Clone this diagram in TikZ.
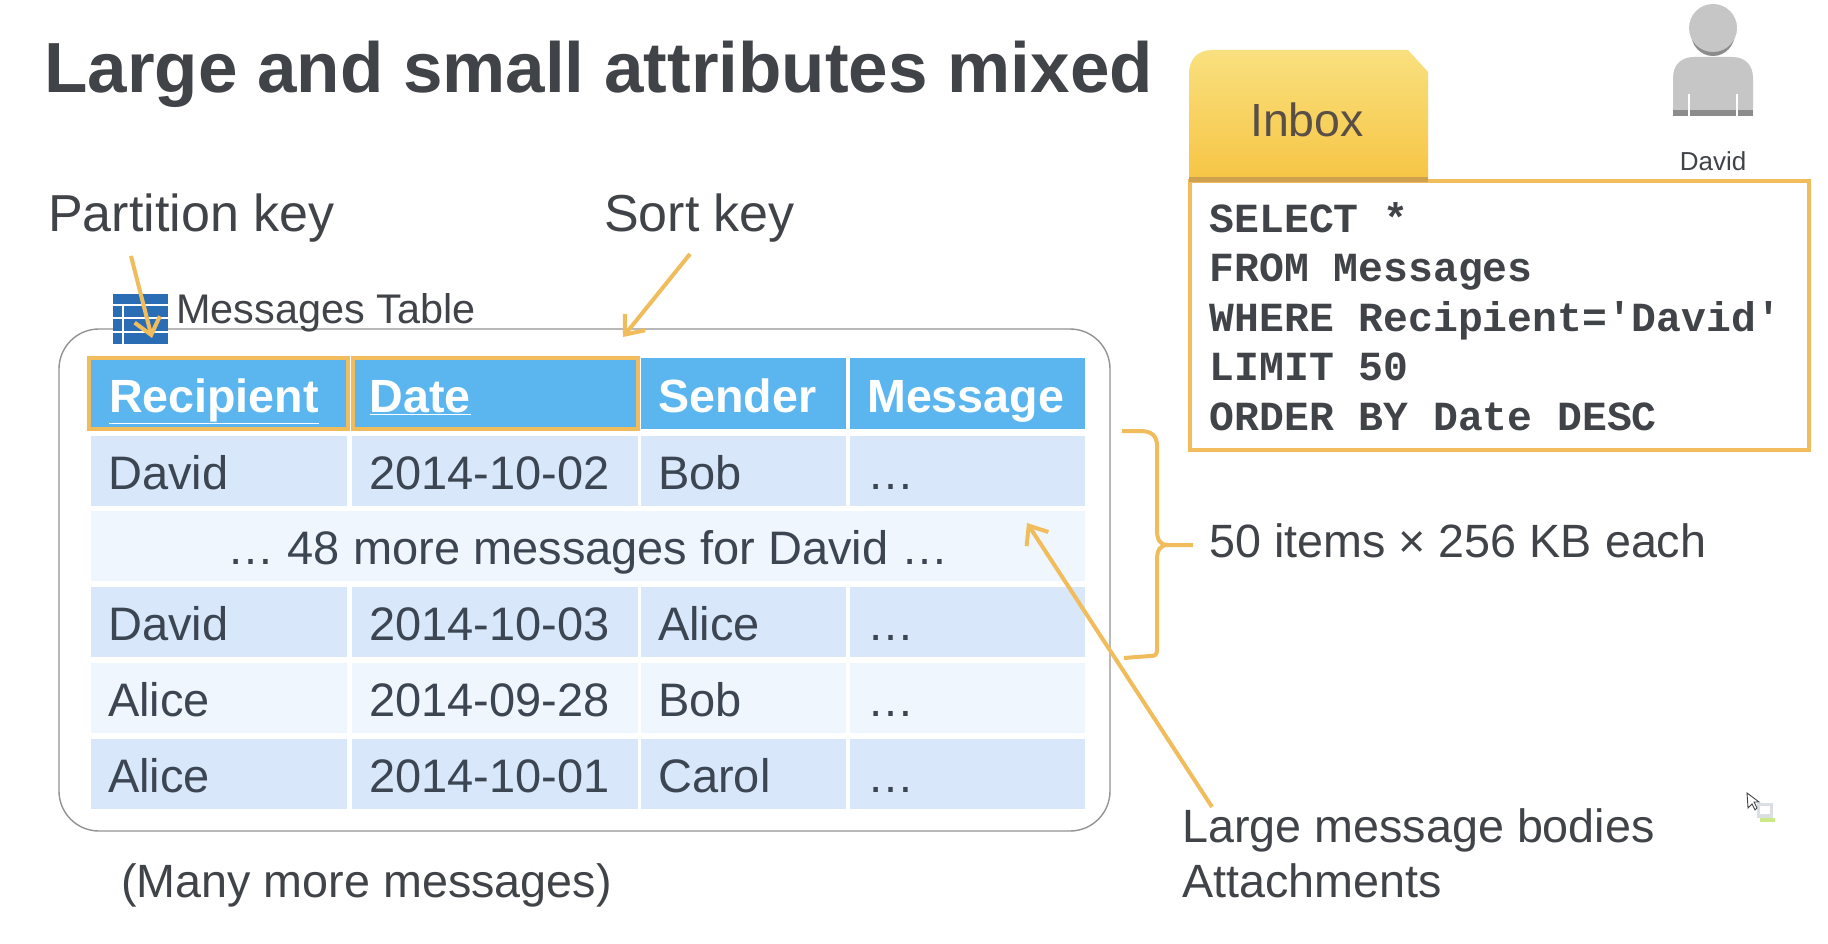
\documentclass[tikz,border=0pt]{standalone}
\usepackage{fontspec}
\setmainfont{Liberation Sans}
\setmonofont{Liberation Mono}
\usetikzlibrary{arrows.meta}
\definecolor{keyorange}{HTML}{F1BC5B}
\definecolor{bandorange}{HTML}{CFA04E}
\definecolor{headblue}{HTML}{5BB6F0}
\definecolor{rowdark}{HTML}{D8E7FA}
\definecolor{rowlight}{HTML}{F0F6FE}
\definecolor{inktext}{HTML}{404347}
\definecolor{celltext}{HTML}{3C4552}
\definecolor{tableblue}{HTML}{2A6DB5}
\definecolor{persongray}{HTML}{C6C6C6}
\definecolor{persondark}{HTML}{8C8C8C}
\definecolor{tabtop}{HTML}{F9E07F}
\definecolor{tabbottom}{HTML}{F6C544}
\tikzset{
  plainlabel/.style={anchor=base west,inner sep=0pt,text=inktext,font=\fontsize{#1}{#1}\selectfont},
  cell/.style={anchor=north west,inner sep=0pt,inner xsep=17pt,text=celltext,
               font=\fontsize{47pt}{47pt}\selectfont,text height=37pt,text depth=0pt,minimum height=70pt},
  headcell/.style={cell,fill=headblue,text=white,minimum height=71pt,text height=38pt,
               font=\fontsize{46.6pt}{47pt}\bfseries\selectfont},
  keycell/.style={headcell,draw=keyorange,line width=4pt},
  rowA/.style={cell,fill=rowdark},
  rowB/.style={cell,fill=rowlight},
  colA/.style={minimum width=256pt,text width=222pt},
  colB/.style={minimum width=286pt,text width=252pt},
  colC/.style={minimum width=205pt,text width=171pt},
  colD/.style={minimum width=235pt,text width=201pt},
  keyarrow/.style={draw=keyorange,line width=4pt,-{Straight Barb[length=16pt,width=26pt,line width=4pt]}},
}
\begin{document}
\begin{tikzpicture}[x=1pt,y=-1pt,line cap=butt,line join=miter]
  \path[use as bounding box,fill=white] (0,0) rectangle (1828,944);   % canvas 1828x944 px
  % ---- title and key labels ----
  \node[plainlabel=71pt,font=\fontsize{71pt}{71pt}\bfseries\selectfont] (title) at (44,93) {Large and small attributes mixed};
  \node[plainlabel=52pt] (partitionkey) at (48,231) {Partition key};
  \node[plainlabel=52pt] (sortkey) at (604,231) {Sort key};
  % ---- table frame, icon ----
  \draw[draw=gray!85,line width=1.4pt,fill=white,rounded corners=40pt] (59,329) rectangle (1110,831);
  \fill[tableblue] (113,294) rectangle (168,344);
  \draw[white,line width=1.8pt] (113,305) -- (168,305) (113,318) -- (168,318) (113,332) -- (168,332);
  \draw[white,line width=1.8pt] (123,305) -- (123,344);
  \node[plainlabel=41.4pt] (tablename) at (176,323) {Messages Table};
  % ---- table cells ----
  \node[keycell,colA,minimum width=259pt,inner xsep=20pt,text width=219pt] (hRecipient) at (87,356) {\underline{Recipient}};
  \node[keycell,colB,minimum width=285pt,inner xsep=16pt] (hDate) at (351,356) {\underline{Date}};
  \node[headcell,colC] (hSender) at (641,358) {Sender};
  \node[headcell,colD] (hMessage) at (850,358) {Message};
  \node[rowA,colA] (r1a) at (91,436) {David};
  \node[rowA,colB] (r1b) at (352,436) {2014-10-02};
  \node[rowA,colC] (r1c) at (641,436) {Bob};
  \node[rowA,colD] (r1d) at (850,436) {…};
  \node[rowB,minimum width=994pt,text width=994pt,inner xsep=0pt,align=flush center] (r2) at (91,511) {… 48 more messages for David …};
  \node[rowA,colA] (r3a) at (91,587) {David};
  \node[rowA,colB] (r3b) at (352,587) {2014-10-03};
  \node[rowA,colC] (r3c) at (641,587) {Alice};
  \node[rowA,colD] (r3d) at (850,587) {…};
  \node[rowB,colA] (r4a) at (91,663) {Alice};
  \node[rowB,colB] (r4b) at (352,663) {2014-09-28};
  \node[rowB,colC] (r4c) at (641,663) {Bob};
  \node[rowB,colD] (r4d) at (850,663) {…};
  \node[rowA,colA] (r5a) at (91,739) {Alice};
  \node[rowA,colB] (r5b) at (352,739) {2014-10-01};
  \node[rowA,colC] (r5c) at (641,739) {Carol};
  \node[rowA,colD] (r5d) at (850,739) {…};
  \node[plainlabel=46.7pt] (manymore) at (121,897) {(Many more messages)};
  % ---- inbox tab and query ----
  \shade[top color=tabtop,bottom color=tabbottom] (1189,180) -- (1189,74)
    .. controls (1189,60) and (1197,50) .. (1212,50) -- (1408,50) -- (1428,72) -- (1428,180) -- cycle;
  \node[inner sep=0pt,text=inktext!80!brown,font=\fontsize{46.5pt}{46.5pt}\selectfont] (inbox) at (1307,120) {Inbox};
  \node[anchor=north west,draw=keyorange,line width=4pt,minimum width=619pt,minimum height=269pt] (query) at (1188,179) {};
  \node[anchor=west,inner sep=0pt,align=flush left,text=inktext,
        font=\fontsize{41.4pt}{49.5pt}\ttfamily\bfseries\selectfont] (querytext) at ([xshift=21.5pt,yshift=-1pt]query.west)
        {SELECT *\\FROM Messages\\WHERE Recipient='David'\\LIMIT 50\\ORDER BY Date DESC};
  \fill[bandorange] (1189,177) rectangle (1428,182);
  % ---- person ----
  \fill[persongray] (1673,116) -- (1673,78) .. controls (1673,64) and (1682,57) .. (1694,57) -- (1732,57)
    .. controls (1744,57) and (1753,64) .. (1753,78) -- (1753,116) -- cycle;
  \fill[persondark] (1673,110) rectangle (1753,116);
  \draw[white,line width=1.5pt] (1689,94) -- (1689,116) (1737,94) -- (1737,116);
  \fill[persondark] (1713,33) ellipse (22pt and 23pt);
  \fill[persongray] (1713,28) ellipse (24pt and 24pt);
  \node[inner sep=0pt,text=inktext,font=\fontsize{26pt}{26pt}\selectfont] (personname) at (1713,161) {David};
  % ---- brace, side labels ----
  \coordinate (braceTop) at (1122,431);
  \coordinate (braceBottom) at (1124,658);
  \node[plainlabel=46.7pt] (itemsize) at (1209,557) {50 items × 256 KB each};
  \draw[draw=keyorange,line width=4pt] (braceTop) -- (1140,431) .. controls (1152,431) and (1157,436) .. (1157,446)
    -- (1157,530) .. controls (1157,540) and (1160,545) .. (1168,545) -- ([xshift=-16pt]itemsize.west |- 0,545)
    (1168,545) .. controls (1160,545) and (1157,550) .. (1157,560) -- (1157,650) .. controls (1157,655) and (1155,656) .. (1150,656) -- (braceBottom);
  \node[plainlabel=46.7pt] (bodies) at (1182,842) {Large message bodies};
  \node[plainlabel=46.7pt] (attachments) at (1182,897) {Attachments};
  % ---- arrows ----
  \coordinate (partitionTip) at (152,338);
  \coordinate (sortTip) at (623,337);
  \coordinate (bodiesTip) at (1027,523);
  \draw[keyarrow] ([xshift=83pt,yshift=-14pt]partitionkey.south west) -- (partitionTip);
  \draw[keyarrow] ([xshift=86pt,yshift=-12pt]sortkey.south west) -- (sortTip);
  \draw[keyarrow] ([xshift=30pt,yshift=1pt]bodies.north west) -- (bodiesTip);
  % ---- mouse pointer ----
  \fill[rowlight!50!persongray] (1757,803) rectangle (1773,818);
  \fill[white] (1760,806) rectangle (1770,814);
  \fill[yellow!60!green!50!white] (1760,818) rectangle (1775,822);
  \draw[fill=white,draw=inktext,line width=0.9pt] (1747,793) -- (1748,808) -- (1752,804) -- (1755,810) -- (1757,808) -- (1754,802) -- (1759,802) -- cycle;
\end{tikzpicture}
\end{document}
